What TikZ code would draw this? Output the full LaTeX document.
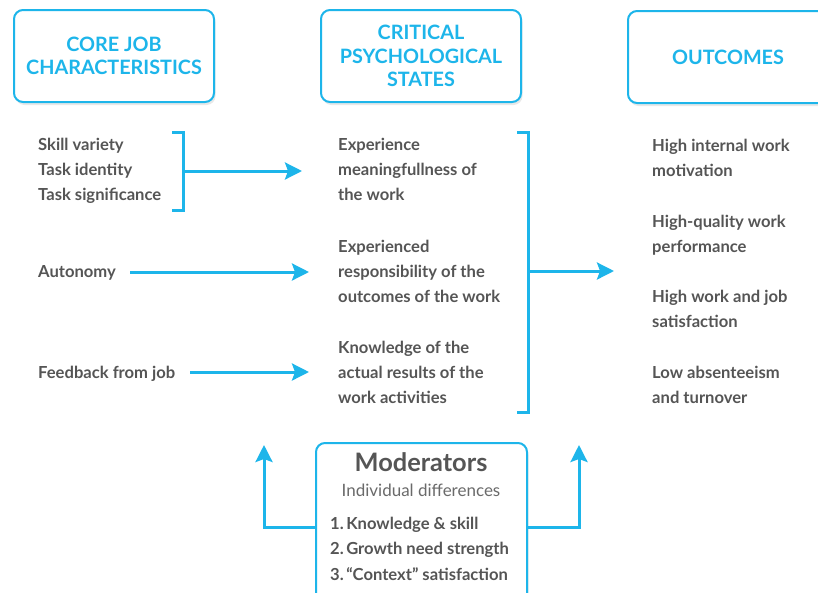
\documentclass[tikz,border=0pt]{standalone}
\usepackage{fontspec}
\setmainfont{Lato}
\usetikzlibrary{arrows.meta,shadows}
\definecolor{cy}{HTML}{1DB5EA}
\definecolor{tx}{HTML}{555555}
\definecolor{tl}{HTML}{6A6A6A}
\begin{document}
\begin{tikzpicture}[x=1pt,y=-1pt,
 boxst/.style={draw=cy, line width=2pt, rounded corners=9pt, fill=white,
   drop shadow={opacity=0.18, shadow xshift=1.5pt, shadow yshift=-3pt}},
 hdr/.style={boxst, minimum width=200pt, minimum height=92pt, align=center,
   text=cy, font=\fontsize{19.8}{23.5}\selectfont\bfseries},
 body/.style={anchor=base west, align=left, inner sep=0pt, text=tx,
   font=\fontsize{16.6}{25.2}\selectfont\bfseries},
 conn/.style={draw=cy, line width=3pt, -{Stealth[length=17pt,width=17pt,inset=3pt]}},
 brk/.style={draw=cy, line width=3pt}]
\useasboundingbox (0,0) rectangle (818,592);
\clip (0,0) rectangle (818,592);
% headers
\node[hdr] (core) at (114,56) {CORE JOB\\CHARACTERISTICS};
\node[hdr] (cps) at (421,56) {CRITICAL\\PSYCHOLOGICAL\\STATES};
\node[hdr] (out) at (728,57) {OUTCOMES};
% left column (base = last line)
\node[body] (sv) at (38,200.5) {Skill variety\\Task identity\\Task significance};
\node[body] (au) at (38,277.5) {Autonomy};
\node[body] (fb) at (38,378.5) {Feedback from job};
% middle column
\node[body] (m1) at (338,200.5) {Experience\\meaningfullness of\\the work};
\node[body] (m2) at (338,302.5) {Experienced\\responsibility of the\\outcomes of the work};
\node[body] (m3) at (338,403.5) {Knowledge of the\\actual results of the\\work activities};
% right column
\node[body] (o1) at (652,176.5) {High internal work\\motivation};
\node[body] (o2) at (652,252.5) {High-quality work\\performance};
\node[body] (o3) at (652,327.5) {High work and job\\satisfaction};
\node[body] (o4) at (652,403.5) {Low absenteeism\\and turnover};
% brackets
\coordinate (b1t) at (172,132);
\coordinate (b1b) at (172,210);
\coordinate (b1m) at (183,171);
\coordinate (b2t) at (517,132);
\coordinate (b2b) at (517,412);
\coordinate (b2m) at (528,271);
\draw[brk] (b1t) -- ++(11,0) |- (b1b);
\draw[brk] (b2t) -- ++(11,0) |- (b2b);
% arrows
\coordinate (a1e) at (302,171);
\coordinate (a2s) at (130,272);
\coordinate (a2e) at (309,272);
\coordinate (a3s) at (190,372);
\coordinate (a3e) at (309,372);
\coordinate (a4e) at (614,271);
\draw[conn] (b1m) -- (a1e);
\draw[conn] (a2s) -- (a2e);
\draw[conn] (a3s) -- (a3e);
\draw[conn] (b2m) -- (a4e);
% moderators
\node[boxst, minimum width=211pt, minimum height=175pt, anchor=north] (mod) at (421.5,442) {};
\node[anchor=base, inner sep=0pt, text=tx, font=\fontsize{25.4}{28}\selectfont\bfseries] (modt) at (421,471) {Moderators};
\node[anchor=base, inner sep=0pt, text=tl, font=\fontsize{17}{20}\selectfont] (mods) at (421,496) {Individual differences};
\node[body] (modl) at (330,580) {1.\hspace{2.5pt}Knowledge \& skill\\2.\hspace{2.5pt}Growth need strength\\3.\hspace{2.5pt}“Context” satisfaction};
\coordinate (my) at (0,527);
\coordinate (ml) at (264,445);
\coordinate (mr) at (579,445);
\draw[conn] (mod.west |- my) -| (ml);
\draw[conn] (mod.east |- my) -| (mr);
\end{tikzpicture}
\end{document}
